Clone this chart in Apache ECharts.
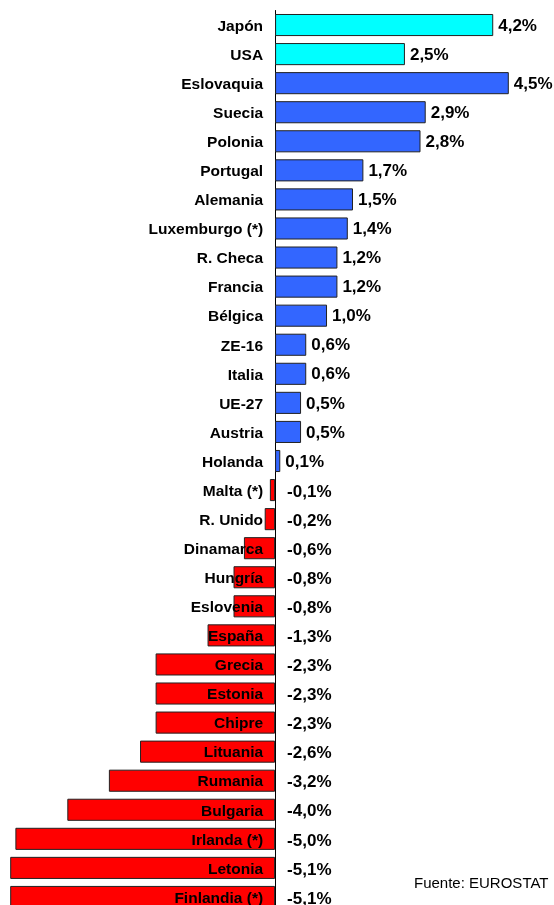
<!DOCTYPE html>
<html>
<head>
<meta charset="utf-8">
<script src="https://cdn.jsdelivr.net/npm/echarts@6/dist/echarts.min.js"></script>
<style>
  html, body { margin: 0; padding: 0; background: #fff; }
  #chart { width: 554px; height: 905px; }
</style>
</head>
<body>
<div id="chart"></div>
<script>
// paises, de arriba abajo
const countries = ['Japón', 'USA', 'Eslovaquia', 'Suecia', 'Polonia', 'Portugal', 'Alemania',
    'Luxemburgo (*)', 'R. Checa', 'Francia', 'Bélgica', 'ZE-16', 'Italia', 'UE-27', 'Austria',
    'Holanda', 'Malta (*)', 'R. Unido', 'Dinamarca', 'Hungría', 'Eslovenia', 'España', 'Grecia',
    'Estonia', 'Chipre', 'Lituania', 'Rumania', 'Bulgaria', 'Irlanda (*)', 'Letonia', 'Finlandia (*)'];
const growth = [4.2, 2.5, 4.5, 2.9, 2.8, 1.7, 1.5, 1.4, 1.2, 1.2, 1.0, 0.6, 0.6, 0.5, 0.5,
    0.1, -0.1, -0.2, -0.6, -0.8, -0.8, -1.3, -2.3, -2.3, -2.3, -2.6, -3.2, -4.0, -5.0, -5.1, -5.1];
const nonEU = ['Japón', 'USA'];

const fmt = v => v.toFixed(1).replace('.', ',') + '%';
const FONT = "'Liberation Sans', Arial, sans-serif";

const chart = echarts.init(document.getElementById('chart'));

chart.setOption({
    animation: false,
    textStyle: { fontFamily: FONT },
    grid: { left: 5, top: 10.5, width: 509, height: 901, containLabel: false, outerBoundsMode: 'none' },
    xAxis: {
        type: 'value',
        min: -5.2,
        max: 4.6,
        show: false
    },
    yAxis: {
        type: 'category',
        inverse: true,
        data: countries,
        axisTick: { show: false },
        axisLine: { lineStyle: { color: '#000', width: 1 } },
        axisLabel: { show: false }
    },
    series: [
        {
            type: 'bar',
            barWidth: '76%',
            data: growth.map((v, i) => ({
                value: v,
                itemStyle: {
                    color: nonEU.includes(countries[i]) ? '#00FFFF' : (v >= 0 ? '#3366FF' : '#FF0000')
                },
                label: { show: v >= 0 }
            })),
            itemStyle: { borderColor: '#222', borderWidth: 1 },
            label: {
                position: 'right',
                distance: 5,
                offset: [0, 1],
                color: '#000',
                fontFamily: FONT,
                fontWeight: 'bold',
                fontSize: 17,
                formatter: p => fmt(p.value)
            }
        },
        {
            // nombres de los paises, junto al eje
            type: 'scatter',
            symbolSize: 0,
            z: 6,
            itemStyle: { opacity: 1 },
            data: growth.map(() => 0),
            label: {
                show: true,
                position: 'left',
                distance: 12,
                offset: [0, 1.5],
                color: '#000',
                fontFamily: FONT,
                fontWeight: 'bold',
                fontSize: 15.5,
                formatter: p => countries[p.dataIndex]
            }
        },
        {
            // valores negativos, a la derecha del eje
            type: 'scatter',
            symbolSize: 0,
            z: 6,
            itemStyle: { opacity: 1 },
            data: growth.map(v => (v < 0 ? 0 : null)),
            label: {
                show: true,
                position: 'right',
                distance: 12,
                offset: [0, 2],
                color: '#000',
                fontFamily: FONT,
                fontWeight: 'bold',
                fontSize: 17,
                formatter: p => fmt(growth[p.dataIndex])
            }
        }
    ],
    graphic: [{
        type: 'text',
        left: 414,
        top: 876,
        style: {
            text: 'Fuente: EUROSTAT',
            fill: '#000',
            font: "15px 'Liberation Sans', Arial, sans-serif"
        }
    }]
});
</script>
</body>
</html>
